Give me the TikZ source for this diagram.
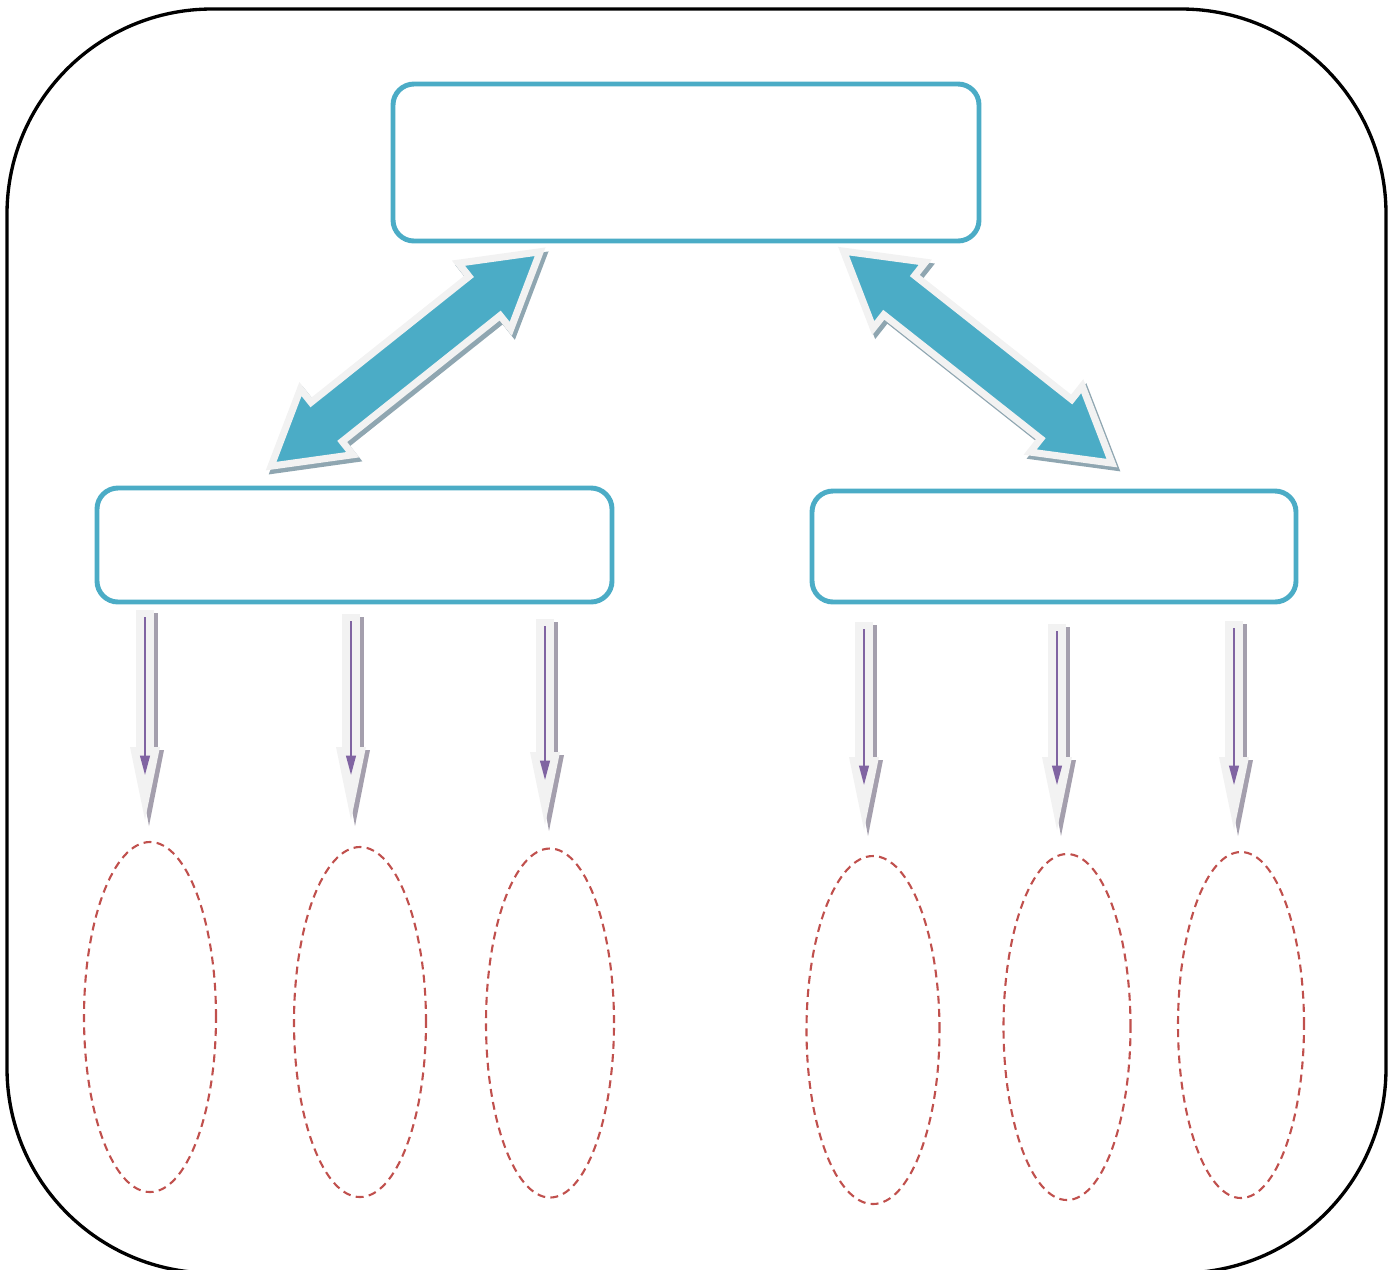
\documentclass[tikz,border=0pt]{standalone}
\usetikzlibrary{shapes.geometric,arrows.meta}
\definecolor{teal1}{HTML}{4BACC6}
\definecolor{lgray}{HTML}{F2F2F2}
\definecolor{ashadow}{HTML}{8FA6B1}
\definecolor{sshadow}{HTML}{A49FAD}
\definecolor{purp}{HTML}{8064A2}
\definecolor{red1}{HTML}{C0504D}
\tikzset{
  box/.style={draw=teal1, line width=2.8pt, rounded corners=0.42cm, fill=white, inner sep=0pt},
  oval/.style={ellipse, draw=red1, line width=1.2pt, dash pattern=on 4.5pt off 3pt, inner sep=0pt},
  bigarrowmain/.style={fill=teal1, draw=lgray, line width=4pt, line join=miter},
  bigarrowshadow/.style={fill=ashadow, draw=ashadow, line width=4pt, line join=miter},
  smallbody/.style={fill=lgray},
  smallshadow/.style={fill=sshadow},
  innerarrow/.style={draw=purp, line width=1.1pt, -{Triangle[length=11pt,width=5.5pt]}}
}
\newcommand{\dblarrow}[1]{%
  (-5,0) -- (66,42) -- (66,25) -- (#1-66,25) -- (#1-66,42) -- (#1+5,0) -- (#1-66,-42) -- (#1-66,-25) -- (66,-25) -- (66,-42) -- cycle}
\begin{document}
\begin{tikzpicture}[x=0.02cm,y=-0.02cm]
\useasboundingbox (0,0) rectangle (1398,1269);
% outer frame
\draw[line width=1.9pt, rounded corners=4.1cm] (7,9) rectangle (1386,1273);
% boxes
\node[box, minimum width=586*0.02cm, minimum height=157*0.02cm] (top) at (686,162.5) {};
\node[box, minimum width=515*0.02cm, minimum height=114*0.02cm] (left) at (354.5,545) {};
\node[box, minimum width=484*0.02cm, minimum height=111*0.02cm] (right) at (1054,546.5) {};
% left double arrow
\begin{scope}[shift={(278,467)}, rotate=38.55]
  \path[bigarrowshadow] \dblarrow{334};
\end{scope}
\begin{scope}[shift={(275,463)}, rotate=38.55]
  \path[bigarrowmain] \dblarrow{334};
\end{scope}
% right double arrow
\begin{scope}[shift={(1111,464)}, rotate=141.7]
  \path[bigarrowshadow] \dblarrow{332};
\end{scope}
\begin{scope}[shift={(1108,460)}, rotate=141.7]
  \path[bigarrowmain] \dblarrow{332};
\end{scope}
% small arrows
\foreach \x/\t/\tip [count=\i] in {145/610/820, 351/614/820, 545/619/825, 864/622/830, 1057/624/830, 1234/621/830}{
  \pgfmathsetmacro{\b}{\tip-73}
  \fill[smallshadow] (\x-5,\t+3) rectangle (\x+13,\b+3);
  \fill[smallshadow] (\x-10,\b+3) -- (\x+19,\b+3) -- (\x+4,\tip+6) -- cycle;
  \fill[smallbody] (\x-9,\t) rectangle (\x+9,\b);
  \fill[smallbody] (\x-15,\b) -- (\x+15,\b) -- (\x,\tip) -- cycle;
  \coordinate (s\i) at (\x,\t+7);
  \coordinate (t\i) at (\x,\tip-45);
  \draw[innerarrow] (s\i) -- (t\i);
}
% ellipses
\node[oval, minimum width=132*0.02cm, minimum height=350*0.02cm] (e1) at (150,1017) {};
\node[oval, minimum width=132*0.02cm, minimum height=350*0.02cm] (e2) at (360,1022) {};
\node[oval, minimum width=128*0.02cm, minimum height=349*0.02cm] (e3) at (550,1023) {};
\node[oval, minimum width=133*0.02cm, minimum height=348*0.02cm] (e4) at (873,1030) {};
\node[oval, minimum width=127*0.02cm, minimum height=346*0.02cm] (e5) at (1067,1027) {};
\node[oval, minimum width=126*0.02cm, minimum height=346*0.02cm] (e6) at (1241,1025) {};
\end{tikzpicture}
\end{document}
